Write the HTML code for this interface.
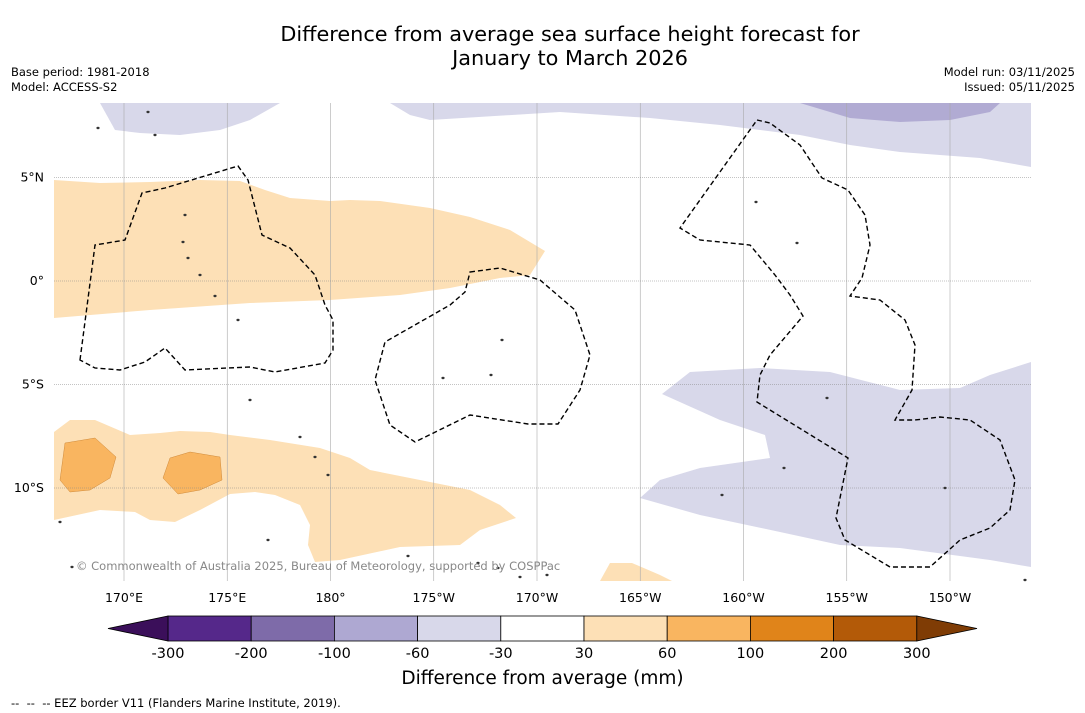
<!DOCTYPE html>
<html><head><meta charset="utf-8"><style>
body{margin:0;background:#fff;font-family:"DejaVu Sans","Liberation Sans",sans-serif;}
#wrap{position:relative;width:1085px;height:713px;overflow:hidden;}
.t{position:absolute;color:#000;white-space:nowrap;}
</style></head><body>
<div id="wrap">
<div class="t" style="left:0;width:1140px;top:22px;text-align:center;font-size:20.8px;line-height:24px;">Difference from average sea surface height forecast for<br>January to March 2026</div>
<div class="t" style="left:11px;top:65px;font-size:11.5px;line-height:15px;">Base period: 1981-2018<br>Model: ACCESS-S2</div>
<div class="t" style="right:10px;top:65px;font-size:11.5px;line-height:15px;text-align:right;">Model run: 03/11/2025<br>Issued: 05/11/2025</div>
<svg id="svg" width="1085" height="713" style="position:absolute;left:0;top:0">
<g>
<polygon fill="#d8d8ea" points="100,103 280,103 250,120 220,130 180,135 140,133 115,130"/>
<polygon fill="#d8d8ea" points="390,103 1031,103 1031,167 980,158 900,152 850,145 800,135 720,125 650,118 560,112 430,120 410,115"/>
<polygon fill="#b1abd3" points="800,103 1000,103 990,112 950,120 900,122 850,118"/>
<polygon fill="#d8d8ea" points="662,394 690,372 760,368 830,372 900,390 960,388 990,375 1031,362 1031,567 990,560 900,548 840,545 780,532 700,515 640,498 660,480 700,468 770,458 765,435 720,420"/>
<polygon fill="#fde0b6" points="54,180 100,183 150,182 200,180 240,181 265,190 290,198 330,201 350,200 380,201 430,208 470,217 510,230 545,251 530,275 500,278 450,288 400,295 330,300 250,303 150,310 54,318"/>
<polygon fill="#fde0b6" points="54,432 70,420 95,420 130,435 160,433 180,431 210,432 230,435 270,440 320,448 350,458 370,470 420,480 470,490 500,505 516,518 480,530 460,545 400,547 340,560 315,562 308,545 310,525 300,505 275,495 255,492 230,494 200,510 175,522 150,520 135,512 100,510 54,520"/>
<polygon fill="#f9b560" stroke="#d08a3a" stroke-width="0.5" points="65,443 95,438 116,457 110,478 90,490 70,492 60,480"/>
<polygon fill="#f9b560" stroke="#d08a3a" stroke-width="0.5" points="170,458 190,452 220,457 222,480 200,490 178,494 163,478"/>
<polygon fill="#fde0b6" points="600,581 610,563 632,563 660,575 672,581"/>
</g>
<g id="grid"></g>
<g fill="none" stroke="#000" stroke-width="1.4" stroke-dasharray="5,3">
<polygon points="80,360 95,245 125,240 142,193 165,188 238,166 248,180 262,235 290,248 315,275 325,305 333,320 333,350 325,363 275,372 250,367 185,370 165,348 145,362 120,370 95,368"/>
<polygon points="470,272 500,268 540,280 575,310 590,355 580,390 558,424 528,424 470,415 415,442 390,425 375,380 385,342 450,305 465,292"/>
<polygon points="757,120 770,123 800,145 822,178 848,190 865,215 870,245 862,278 850,296 880,300 905,320 915,345 912,390 895,420 915,420 940,417 970,420 1000,440 1015,480 1010,510 990,528 960,540 930,567 890,567 845,540 836,518 848,458 757,402 760,375 770,355 803,316 790,295 775,275 750,245 700,240 680,228"/>
</g>
<g id="islands" fill="#333"></g>
<text x="76" y="570" font-size="11.5" fill="#888" font-family="DejaVu Sans,sans-serif">© Commonwealth of Australia 2025, Bureau of Meteorology, supported by COSPPac</text>
<g id="axes" font-family="DejaVu Sans,sans-serif" font-size="12.5"></g>
<g id="cbar" font-family="DejaVu Sans,sans-serif"></g>
</svg>
<div class="t" style="left:0;width:1085px;top:668px;text-align:center;font-size:18.5px;">Difference from average (mm)</div>
<div class="t" style="left:11px;top:696px;font-size:11.5px;">-- &nbsp;-- &nbsp;-- EEZ border V11 (Flanders Marine Institute, 2019).</div>
</div>
<script>
const lonTicks=[170,175,180,-175,-170,-165,-160,-155,-150];
const lonLabels=["170°E","175°E","180°","175°W","170°W","165°W","160°W","155°W","150°W"];
const latTicks=[5,0,-5,-10];
const latLabels=["5°N","0°","5°S","10°S"];
const cbColors=["#55288a","#7e6ba9","#aea8d2","#d8d8ea","#ffffff","#fde0b6","#f9b560","#e0841a","#b35a08"];
const cbLabels=["-300","-200","-100","-60","-30","30","60","100","200","300"];
const lowColor="#3b0f5a", highColor="#7f3c05";
const NS="http://www.w3.org/2000/svg";
const x0=54,x1=1031,y0=103,y1=581;
function xLon(l){const e=l<0?l+360:l;return 124+(e-170)*20.65;}
function yLat(a){return 281-a*20.7;}
function mk(t,a,p){const e=document.createElementNS(NS,t);for(const k in a)e.setAttribute(k,a[k]);p.appendChild(e);return e;}
const grid=document.getElementById('grid'),axes=document.getElementById('axes');
lonTicks.forEach((l,i)=>{const x=xLon(l);
 const ln=mk('line',{x1:x,x2:x,y1:y0,y2:y1,stroke:'#aaa','stroke-width':0.6},grid);
 
 const t=mk('text',{x:x,y:602,'text-anchor':'middle'},axes);t.textContent=lonLabels[i];
 });
latTicks.forEach((a,i)=>{const y=yLat(a);
 const ln=mk('line',{x1:x0,x2:x1,y1:y,y2:y,stroke:'#888','stroke-width':0.6,'stroke-dasharray':'1,1'},grid);
 
 const t=mk('text',{x:44,y:y+4,'text-anchor':'end'},axes);t.textContent=latLabels[i];
 });
const isl=document.getElementById('islands');
[[185,215],[183,242],[188,258],[200,275],[215,296],[238,320],[250,400],[300,437],[315,457],[328,475],[502,340],[491,375],[443,378],[756,202],[797,243],[827,398],[784,468],[722,495],[945,488],[1025,580],[60,522],[72,567],[478,563],[498,568],[520,577],[547,575],[268,540],[408,556],[148,112],[98,128],[155,135]].forEach(p=>{
 const c=mk('ellipse',{cx:p[0],cy:p[1],rx:1.6,ry:1.2},isl);
 });
const cb=document.getElementById('cbar');
const bx=168,bw=83.2,by=616,bh=25;
cbColors.forEach((c,i)=>{const r=mk('rect',{x:bx+i*bw,y:by,width:bw,height:bh,fill:c,stroke:'#000','stroke-width':0.8},cb);
 });
const lt=mk('polygon',{points:`${bx},${by} ${bx},${by+bh} 108,${by+bh/2}`,fill:lowColor,stroke:'#000','stroke-width':0.8},cb);

const ex=bx+cbColors.length*bw;
const rt=mk('polygon',{points:`${ex},${by} ${ex},${by+bh} 977,${by+bh/2}`,fill:highColor,stroke:'#000','stroke-width':0.8},cb);

cbLabels.forEach((s,i)=>{const t=mk('text',{x:bx+i*bw,y:658,'text-anchor':'middle','font-size':14.5},cb);t.textContent=s;
 });
</script>
</body></html>
